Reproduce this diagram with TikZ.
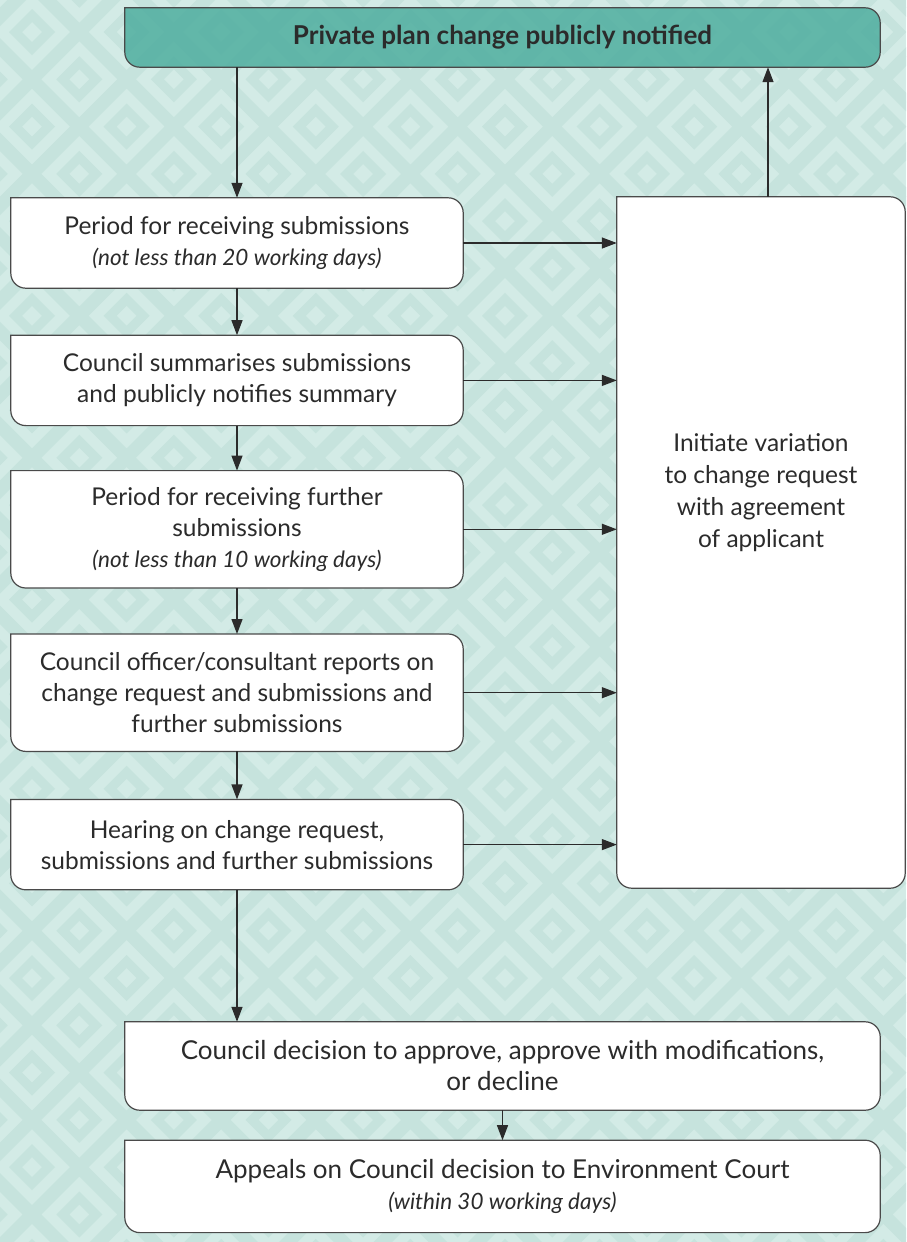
\documentclass[tikz,border=0pt]{standalone}
\usepackage{fontspec}
\setmainfont{Lato}
\usepackage{tikz}
\usetikzlibrary{positioning}
\usetikzlibrary{arrows.meta}
\usetikzlibrary{backgrounds}
\definecolor{bglight}{HTML}{D3EBE6}
\definecolor{bgdark}{HTML}{C6E3DD}
\definecolor{teal}{HTML}{4FAE9F}
\definecolor{ink}{HTML}{2B2B2B}
\definecolor{edge}{HTML}{4A4A4A}
\newcommand{\boxfont}{\fontsize{24.5}{31}\selectfont}
\newcommand{\daysnote}[1]{{\fontsize{22.5}{32}\selectfont\itshape #1}}
\newcommand{\diamondring}[4]{\fill[bgdark,even odd rule]
    (#1+#4,#2) -- (#1,#2+#4) -- (#1-#4,#2) -- (#1,#2-#4) -- cycle
    (#1+#3,#2) -- (#1,#2+#3) -- (#1-#3,#2) -- (#1,#2-#3) -- cycle;}
\tikzset{
    box/.style = {rectangle, inner sep=0pt, align=center, font=\boxfont, text=ink},
    leftbox/.style = {box, minimum width=452pt},
    widebox/.style = {box, minimum width=755pt, font=\fontsize{26}{31}\selectfont},
    frame/.style = {draw=edge, line width=1.2pt, fill=white},
    flow/.style = {draw=ink, line width=1.3pt, -{Triangle[length=15pt,width=11pt]}}}
\begin{document}
\begin{tikzpicture}[x=1pt,y=-1pt]
        \useasboundingbox (0,0) rectangle (906,1242);
        % nodes
        \node[widebox, minimum height=59pt, font=\fontsize{26}{31}\selectfont\bfseries] (notified) at (502.5,37.5) {Private plan change publicly notified};
        \node[leftbox, minimum height=90pt] (period) at (237,243) {Period for receiving submissions\\ \daysnote{(not less than 20 working days)}};
        \node[leftbox, minimum height=90pt, below=47pt of period] (summary) {Council summarises submissions\\ and publicly notifies summary};
        \node[leftbox, minimum height=117pt, below=45pt of summary] (further) {Period for receiving further\\ submissions\\ \daysnote{(not less than 10 working days)}};
        \node[leftbox, minimum height=117pt, below=46pt of further] (report) {Council officer/consultant reports on\\ change request and submissions and\\ further submissions};
        \node[leftbox, minimum height=90pt, below=48pt of report] (hearing) {Hearing on change request,\\ submissions and further submissions};
        \node[box, minimum width=288pt, minimum height=691pt, text depth=104pt, font=\fontsize{24.5}{32}\selectfont] (variation) at (761,542.5) {Initiate variation\\ to change request\\ with agreement\\ of applicant};
        \node[widebox, minimum height=88pt] (decision) at (502.5,1066) {Council decision to approve, approve with modifications,\\ or decline};
        \node[widebox, minimum height=92pt, below=30pt of decision] (appeals) {Appeals on Council decision to Environment Court\\ \daysnote{(within 30 working days)}};
        \coordinate[right=7pt of variation.north] (up);
        % background and frames
        \begin{scope}[on background layer]
            \begin{scope}
                \clip (0,0) rectangle (906,1242);
                \fill[bglight] (0,0) rectangle (906,1242);
                \foreach \i in {-1,...,9} {
                    \foreach \j in {-1,...,13} {
                        \pgfmathsetmacro\cx{32+94.6*\i}
                        \pgfmathsetmacro\cy{32+94.6*\j}
                        \pgfmathsetmacro\dx{\cx+47.3}
                        \pgfmathsetmacro\dy{\cy+47.3}
                        \diamondring{\cx}{\cy}{10}{23}
                        \diamondring{\cx}{\cy}{38}{47.6}
                        \diamondring{\dx}{\dy}{10}{23}
                        \diamondring{\dx}{\dy}{38}{47.6}
                    }
                }
            \end{scope}
            \draw[frame, fill=teal, fill opacity=0.85] (notified.north) [rounded corners=15pt] -| (notified.south east) -| (notified.west) [sharp corners] |- (notified.north) -- cycle;
            \foreach \b in {period,summary,further,report,hearing,variation,decision,appeals}
                \draw[frame] (\b.north) [rounded corners=15pt] -| (\b.south east) -| (\b.west) [sharp corners] |- (\b.north) -- cycle;
        \end{scope}
        % connectors
        \draw[flow] (period.north |- notified.south) -- (period);
        \draw[flow] (period) -- (summary);
        \draw[flow] (summary) -- (further);
        \draw[flow] (further) -- (report);
        \draw[flow] (report) -- (hearing);
        \draw[flow] (hearing.south) -- (hearing.south |- decision.north);
        \draw[flow] (decision) -- (appeals);
        \draw[flow] (up) -- (up |- notified.south);
        \foreach \b in {period,summary,further,report,hearing}
            \draw[flow] (\b.east) -- (\b.east -| variation.west);
\end{tikzpicture}
\end{document}
